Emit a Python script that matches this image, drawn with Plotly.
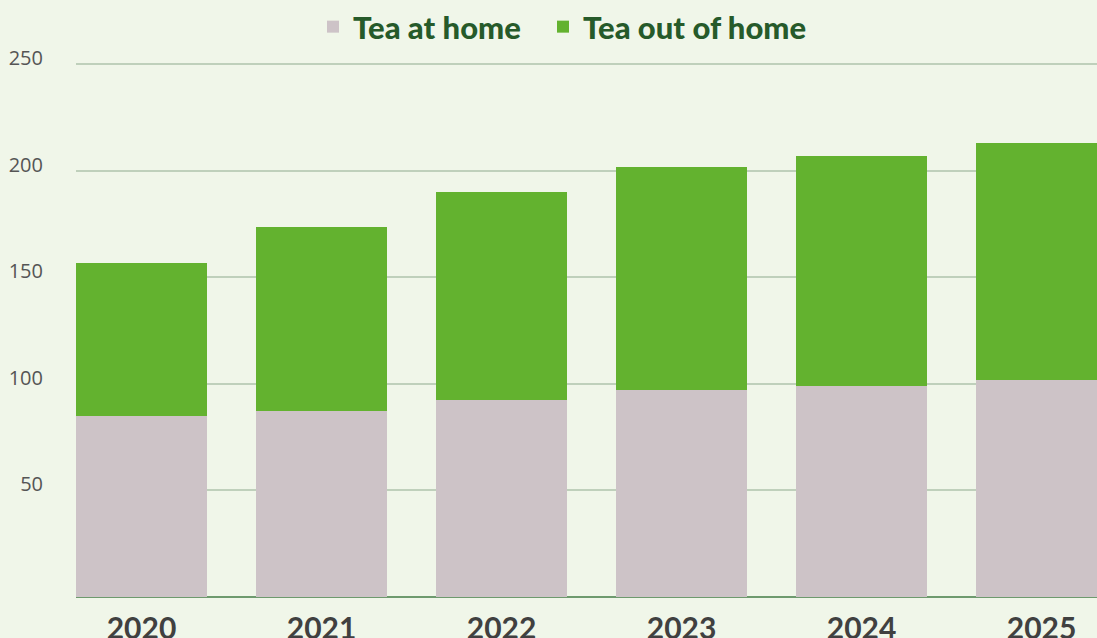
import plotly.graph_objects as go

years = ["2020", "2021", "2022", "2023", "2024", "2025"]
tea_at_home = [85.0, 87.3, 92.5, 97.2, 99.1, 101.9]
tea_out_of_home = [71.8, 86.4, 97.6, 104.7, 107.9, 111.2]
y_ticks = [50, 100, 150, 200, 250]

BG = "#f0f6e9"
W, H = 1097, 638
x_pos = list(range(len(years)))

fig = go.Figure()
fig.add_trace(go.Bar(x=x_pos, y=tea_at_home, name="Tea at home", legend="legend",
                     marker=dict(color="#cdc3c7", line=dict(width=0))))
fig.add_trace(go.Bar(x=x_pos, y=tea_out_of_home, name="Tea out of home", legend="legend2",
                     marker=dict(color="#63b22f", line=dict(width=0))))

legend_font = dict(family="Lato", size=31, color="#265a2a", weight=900)
fig.update_layout(
    width=W, height=H,
    barmode="stack", bargap=0.272,
    paper_bgcolor=BG, plot_bgcolor=BG,
    margin=dict(l=76, r=0, t=60, b=41, autoexpand=False),
    showlegend=True,
    legend=dict(orientation="h", x=313 / W, xref="container", xanchor="left",
                y=1.0, yref="container", yanchor="top",
                font=legend_font, bgcolor="rgba(0,0,0,0)"),
    legend2=dict(orientation="h", x=543 / W, xref="container", xanchor="left",
                 y=1.0, yref="container", yanchor="top",
                 font=legend_font, bgcolor="rgba(0,0,0,0)"),
    xaxis=dict(range=[-0.364, 5.308], tickmode="array", tickvals=x_pos, ticktext=years,
               showgrid=False, zeroline=False, showline=False, automargin=False,
               ticks="", ticklabelstandoff=11,
               tickfont=dict(family="Lato", size=30, color="#404040", weight="bold")),
    yaxis=dict(range=[0, 252.1], tickmode="array", tickvals=y_ticks,
               showgrid=True, gridcolor="#bfd0bb", gridwidth=2, automargin=False,
               zeroline=True, zerolinecolor="#6e9a6e", zerolinewidth=1.5,
               showline=False, ticks="", ticklabelstandoff=32, ticklabelshift=-6,
               tickfont=dict(family="Open Sans", size=20, color="#555555")),
)

fig.write_html("out.html", config={"displayModeBar": False},
               post_script="document.body.style.margin='0';document.body.style.overflow='hidden';")
